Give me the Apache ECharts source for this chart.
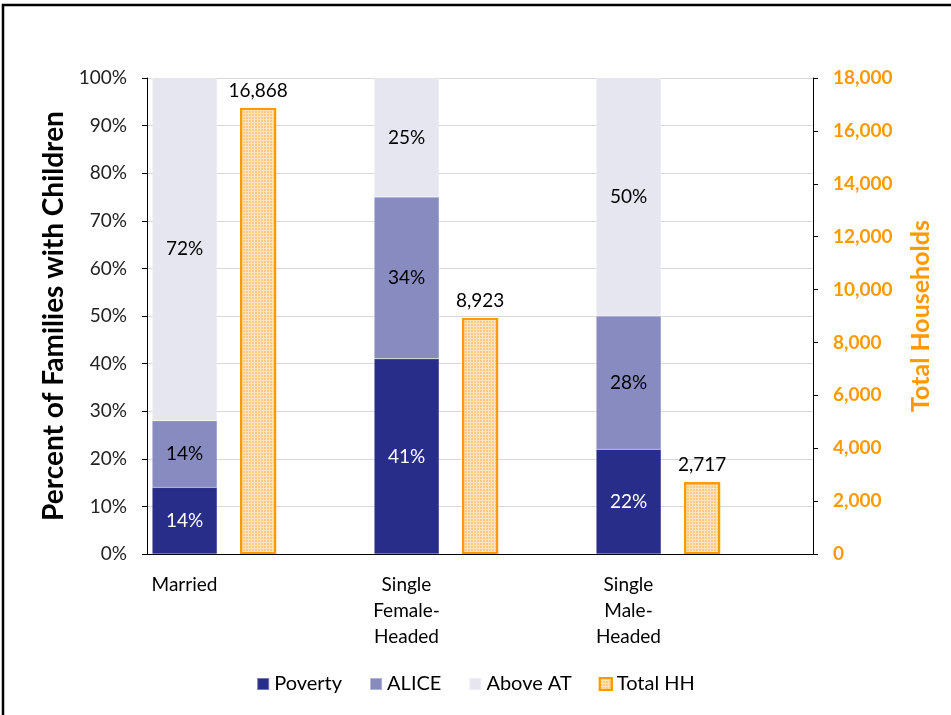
<!DOCTYPE html>
<html>
<head>
<meta charset="utf-8">
<script src="https://cdn.jsdelivr.net/npm/echarts@6/dist/echarts.min.js"></script>
<style>
  html, body { margin: 0; padding: 0; background: #fff; }
  #chart { width: 951px; height: 715px; }
</style>
</head>
<body>
<div id="chart"></div>
<script>
// categories and values
var categories = ['Married', 'Single\nFemale-\nHeaded', 'Single\nMale-\nHeaded'];
var poverty = [14, 41, 22];
var alice = [14, 34, 28];
var aboveAT = [72, 25, 50];
var totalHH = [16868, 8923, 2717];

var FONT = 'Lato, "Open Sans", sans-serif';
var ORANGE = '#ff9900';

function formatNumber(v) {
    return new Intl.NumberFormat('en-US').format(v);
}

var chartDom = document.getElementById('chart');
var myChart = echarts.init(chartDom);

function stackSeries(name, data, color, labelColor) {
    return {
        name: name,
        type: 'bar',
        stack: 'pct',
        yAxisIndex: 0,
        barWidth: 65,
        barGap: '35.4%',
        itemStyle: { color: color, borderColor: 'rgba(255,255,255,0.35)', borderWidth: 0.5 },
        label: {
            show: true,
            position: 'inside',
            formatter: '{c}%',
            fontFamily: FONT,
            fontSize: 19,
            color: labelColor
        },
        data: data
    };
}

var option = {
    animation: false,
    textStyle: { fontFamily: FONT },
    grid: {
        left: 147,
        right: 138,
        top: 78,
        bottom: 161
    },
    legend: {
        data: ['Poverty', 'ALICE', 'Above AT', 'Total HH'],
        bottom: 16,
        left: 'center',
        itemWidth: 12,
        itemHeight: 12,
        itemGap: 27,
        icon: 'rect',
        textStyle: { fontFamily: FONT, fontSize: 20, color: '#000' }
    },
    xAxis: {
        type: 'category',
        data: categories,
        axisLine: { lineStyle: { color: '#000', width: 1 } },
        axisTick: { show: false },
        axisLabel: {
            fontFamily: FONT,
            fontSize: 19,
            color: '#000',
            lineHeight: 26,
            margin: 18,
            padding: [0, 147, 0, 0],
            interval: 0
        }
    },
    yAxis: [
        {
            type: 'value',
            min: 0,
            max: 100,
            interval: 10,
            name: 'Percent of Families with Children',
            nameLocation: 'middle',
            nameGap: 76,
            nameTextStyle: { fontFamily: FONT, fontSize: 28, fontWeight: 'bold', color: '#000' },
            axisLine: { show: true, lineStyle: { color: '#000' } },
            axisTick: { show: true, inside: false, length: 5, lineStyle: { color: '#000' } },
            axisLabel: { formatter: '{value}%', fontFamily: FONT, fontSize: 19, color: '#222', margin: 20 },
            splitLine: { lineStyle: { color: '#d9d9d9', width: 1 } }
        },
        {
            type: 'value',
            min: 0,
            max: 18000,
            interval: 2000,
            position: 'right',
            name: 'Total Households',
            nameLocation: 'middle',
            nameGap: 95,
            nameRotate: 90,
            nameTextStyle: { fontFamily: FONT, fontSize: 25, fontWeight: 'bold', color: ORANGE },
            axisLine: { show: true, lineStyle: { color: '#000' } },
            axisTick: { show: true, inside: false, length: 5, lineStyle: { color: '#000' } },
            axisLabel: {
                formatter: function (v) { return formatNumber(v); },
                fontFamily: FONT, fontSize: 19, fontWeight: 'bold', color: ORANGE, margin: 20
            },
            splitLine: { show: false }
        }
    ],
    series: [
        stackSeries('Poverty', poverty, '#292d8a', '#fff'),
        stackSeries('ALICE', alice, '#888bbf', '#000'),
        stackSeries('Above AT', aboveAT, '#e6e6f0', '#000'),
        {
            name: 'Total HH',
            type: 'bar',
            yAxisIndex: 1,
            barWidth: 36,
            barGap: '35.4%',
            itemStyle: {
                color: '#fde3bd',
                borderColor: ORANGE,
                borderWidth: 2,
                decal: {
                    symbol: 'rect',
                    symbolSize: 0.7,
                    dashArrayX: [2, 1],
                    dashArrayY: [2, 1],
                    color: '#fbb451',
                    rotation: 0
                }
            },
            label: {
                show: true,
                position: 'top',
                distance: 8,
                formatter: function (p) { return formatNumber(p.value); },
                fontFamily: FONT,
                fontSize: 19,
                color: '#000'
            },
            data: totalHH
        },
        {
            // empty slot so the Total HH bar sits on the category centre
            name: 'spacer',
            type: 'bar',
            yAxisIndex: 1,
            barWidth: 75,
            barGap: '35.4%',
            data: []
        }
    ],
    graphic: [
        { type: 'rect', shape: { x: 3, y: 5, width: 960, height: 800 }, style: { fill: 'none', stroke: '#000', lineWidth: 2.5 }, silent: true }
    ]
};

myChart.setOption(option);
</script>
</body>
</html>
